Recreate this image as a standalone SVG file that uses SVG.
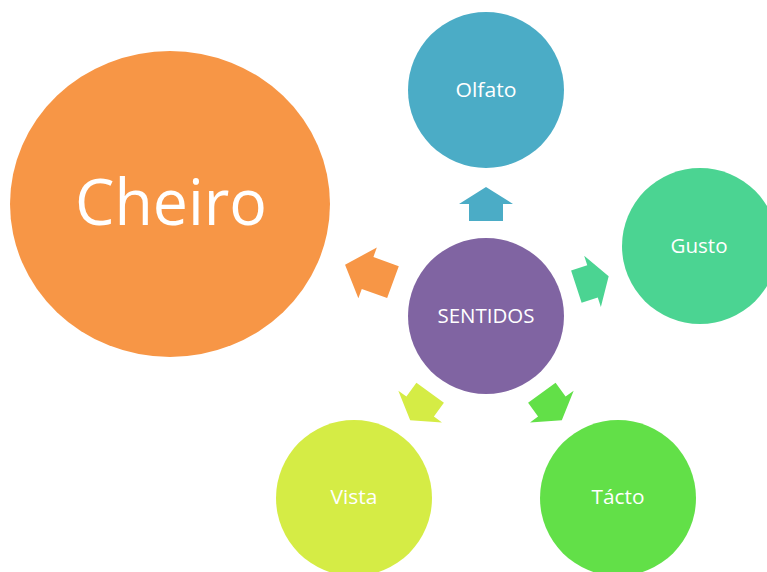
<svg xmlns="http://www.w3.org/2000/svg" width="767" height="572" viewBox="0 0 767 572">
<style>
text{font-family:"Open Sans","Liberation Sans",sans-serif;fill:#ffffff;text-anchor:middle}
.s{font-size:20px}
</style>
<defs>
<path id="arr" d="M0,-129 L27,-112 L17,-112 L17,-95 L-17,-95 L-17,-112 L-27,-112 Z"/>
</defs>
<rect width="767" height="572" fill="#ffffff"/>
<g id="connectors">
<use href="#arr" transform="translate(486,316) rotate(0)" fill="#4BACC6"/>
<use href="#arr" transform="translate(486,316) rotate(72)" fill="#4BD492"/>
<use href="#arr" transform="translate(486,316) rotate(144)" fill="#62E048"/>
<use href="#arr" transform="translate(486,316) rotate(216)" fill="#D5EC45"/>
<path d="M0,-150 L27,-126 L17,-126 L17,-99 L-17,-99 L-17,-126 L-27,-126 Z" transform="translate(486,316) rotate(-70)" fill="#F79646"/>
</g>
<g id="cheiro">
<ellipse cx="170" cy="204" rx="160" ry="153" fill="#F79646"/>
<text x="171" y="225" style="font-size:64px" textLength="192" lengthAdjust="spacingAndGlyphs">Cheiro</text>
</g>
<g id="olfato">
<circle cx="486" cy="90" r="78" fill="#4BACC6"/>
<text class="s" x="486" y="97" textLength="61" lengthAdjust="spacingAndGlyphs">Olfato</text>
</g>
<g id="gusto">
<circle cx="700" cy="246" r="78" fill="#4BD492"/>
<text class="s" x="699" y="253" textLength="57" lengthAdjust="spacingAndGlyphs">Gusto</text>
</g>
<g id="sentidos">
<circle cx="486" cy="316" r="78" fill="#8064A2"/>
<text class="s" x="486" y="323" textLength="97" lengthAdjust="spacingAndGlyphs">SENTIDOS</text>
</g>
<g id="vista">
<circle cx="354" cy="498" r="78" fill="#D5EC45"/>
<text class="s" x="354" y="504" textLength="47" lengthAdjust="spacingAndGlyphs">Vista</text>
</g>
<g id="tacto">
<circle cx="618" cy="498" r="78" fill="#62E048"/>
<text class="s" x="618" y="504" textLength="53" lengthAdjust="spacingAndGlyphs">Tácto</text>
</g>
</svg>
